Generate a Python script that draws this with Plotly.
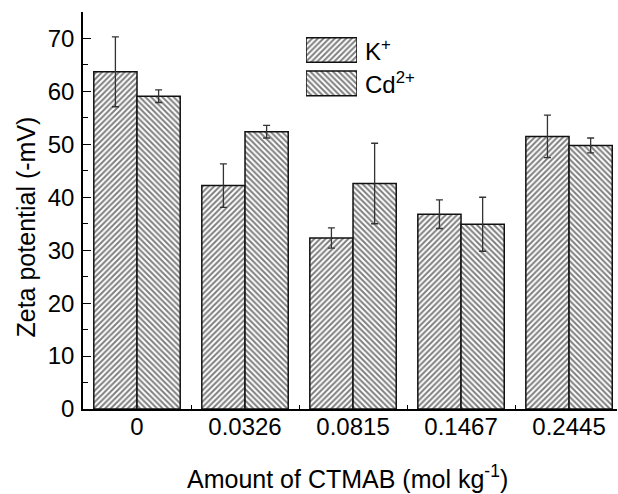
import plotly.graph_objects as go

categories = ["0", "0.0326", "0.0815", "0.1467", "0.2445"]
k_values = [63.7, 42.2, 32.3, 36.8, 51.5]
k_errors = [6.6, 4.1, 1.9, 2.7, 4.0]
cd_values = [59.1, 52.4, 42.6, 34.9, 49.8]
cd_errors = [1.2, 1.2, 7.6, 5.1, 1.4]
series_names = ["K<sup>+</sup>", "Cd<sup>2+</sup>"]
series_patterns = ["/", "\\"]

FONT = "Liberation Sans, Arial, sans-serif"
W, H = 618, 494
ML, MR, MT, MB = 83, 1, 12, 85
PW, PH = W - ML - MR, H - MT - MB
TICK_SIZE = 24
TITLE_SIZE = 25


def px2paper_x(px):
    return (px - ML) / PW


def px2paper_y(py):
    return (H - MB - py) / PH


fig = go.Figure()

pattern_style = dict(fgcolor="black", bgcolor="white", size=4, solidity=0.5)

for vals, errs, pat, name in [
    (k_values, k_errors, series_patterns[0], series_names[0]),
    (cd_values, cd_errors, series_patterns[1], series_names[1]),
]:
    fig.add_trace(go.Bar(
        x=categories, y=vals, name=name, showlegend=False,
        marker=dict(color="white", line=dict(color="#111", width=1.5),
                    pattern=dict(shape=pat, **pattern_style)),
        error_y=dict(type="data", array=errs, visible=True,
                     color="#333", thickness=1.3, width=3.5),
    ))

# custom legend swatches (large hatched boxes)
fig.add_trace(go.Bar(
    x=[1, 1], y=series_names, orientation="h", xaxis="x2", yaxis="y2",
    width=0.74, offset=-0.37, showlegend=False, hoverinfo="skip",
    marker=dict(color="white", line=dict(color="#111", width=1.5),
                pattern=dict(shape=series_patterns, **pattern_style)),
))

fig.update_layout(
    width=W, height=H,
    margin=dict(l=ML, r=MR, t=MT, b=MB),
    paper_bgcolor="white", plot_bgcolor="white",
    barmode="group", bargap=0.2, bargroupgap=0,
    font=dict(family=FONT, size=TICK_SIZE, color="black"),
    xaxis=dict(
        type="category", range=[-0.5, 4.444],
        showline=True, linecolor="black", linewidth=1.5,
        ticks="inside", tickson="boundaries", ticklen=4, tickwidth=1.2, tickcolor="black",
        showgrid=False, zeroline=False,
        tickfont=dict(family=FONT, size=TICK_SIZE, color="black"),
        ticklabelstandoff=-5,
    ),
    yaxis=dict(
        range=[0, 75], tickmode="linear", tick0=0, dtick=10,
        showline=True, linecolor="black", linewidth=1.5,
        ticks="inside", ticklen=8, tickwidth=1.2, tickcolor="black",
        minor=dict(ticks="inside", ticklen=5, tickwidth=1.2, tickcolor="black", dtick=5),
        showgrid=False, zeroline=False,
        tickfont=dict(family=FONT, size=TICK_SIZE, color="black"),
        ticklabelstandoff=2,
    ),
    xaxis2=dict(domain=[px2paper_x(306), px2paper_x(357)], range=[0, 1],
                visible=False, anchor="y2", fixedrange=True),
    yaxis2=dict(domain=[px2paper_y(100), px2paper_y(33.3)], range=[1.5, -0.5],
                type="category", visible=False, anchor="x2", fixedrange=True),
    annotations=[
        dict(text=series_names[0], x=px2paper_x(363), y=px2paper_y(50),
             xref="paper", yref="paper", xanchor="left", yanchor="middle",
             showarrow=False, font=dict(family=FONT, size=TICK_SIZE, color="black")),
        dict(text=series_names[1], x=px2paper_x(363), y=px2paper_y(83.3),
             xref="paper", yref="paper", xanchor="left", yanchor="middle",
             showarrow=False, font=dict(family=FONT, size=TICK_SIZE, color="black")),
        dict(text="Zeta potential (-mV)", x=px2paper_x(25), y=px2paper_y(227.5),
             xref="paper", yref="paper", xanchor="center", yanchor="middle",
             textangle=-90, showarrow=False,
             font=dict(family=FONT, size=TITLE_SIZE, color="black")),
        dict(text="Amount of CTMAB (mol kg<sup>-1</sup>)", x=px2paper_x(347),
             y=px2paper_y(477), xref="paper", yref="paper",
             xanchor="center", yanchor="middle", showarrow=False,
             font=dict(family=FONT, size=TITLE_SIZE, color="black")),
    ],
)

fig.write_html("out.html")
